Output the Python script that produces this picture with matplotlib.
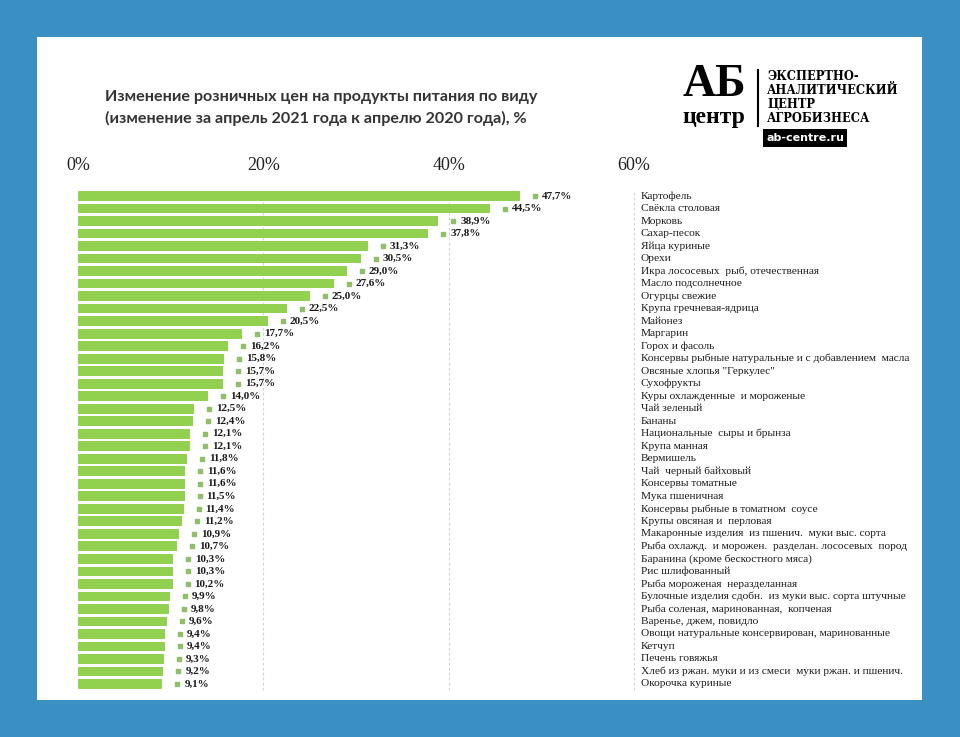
import numpy as np
import matplotlib.pyplot as plt
from matplotlib.patches import Rectangle
from matplotlib.transforms import offset_copy

# data
products = [
    "Картофель", "Свёкла столовая", "Морковь", "Сахар-песок", "Яйца куриные",
    "Орехи", "Икра лососевых  рыб, отечественная", "Масло подсолнечное",
    "Огурцы свежие", "Крупа гречневая-ядрица", "Майонез", "Маргарин",
    "Горох и фасоль", "Консервы рыбные натуральные и с добавлением  масла",
    "Овсяные хлопья \"Геркулес\"", "Сухофрукты", "Куры охлажденные  и мороженые",
    "Чай зеленый", "Бананы", "Национальные  сыры и брынза", "Крупа манная",
    "Вермишель", "Чай  черный байховый", "Консервы томатные", "Мука пшеничная",
    "Консервы рыбные в томатном  соусе", "Крупы овсяная и  перловая",
    "Макаронные изделия  из пшенич.  муки выс. сорта",
    "Рыба охлажд.  и морожен.  разделан. лососевых  пород",
    "Баранина (кроме бескостного мяса)", "Рис шлифованный",
    "Рыба мороженая  неразделанная",
    "Булочные изделия сдобн.  из муки выс. сорта штучные",
    "Рыба соленая, маринованная,  копченая", "Варенье, джем, повидло",
    "Овощи натуральные консервирован, маринованные", "Кетчуп",
    "Печень говяжья", "Хлеб из ржан. муки и из смеси  муки ржан. и пшенич.",
    "Окорочка куриные",
]
change = [47.7, 44.5, 38.9, 37.8, 31.3, 30.5, 29.0, 27.6, 25.0, 22.5, 20.5,
          17.7, 16.2, 15.8, 15.7, 15.7, 14.0, 12.5, 12.4, 12.1, 12.1, 11.8,
          11.6, 11.6, 11.5, 11.4, 11.2, 10.9, 10.7, 10.3, 10.3, 10.2, 9.9,
          9.8, 9.6, 9.4, 9.4, 9.3, 9.2, 9.1]
xticks = [0, 20, 40, 60]

W, H = 960, 737


def px(x, y):
    return x / W, 1 - y / H


fig = plt.figure(figsize=(9.6, 7.37), dpi=100)
fig.patch.set_facecolor('#3a8fc3')
fig.patches.append(Rectangle(px(37, 700), (922 - 37) / W, (700 - 37) / H,
                             transform=fig.transFigure, facecolor='white',
                             edgecolor='none', zorder=-1))

# axes placed so that 0..60 % spans x 78..634 px
n = len(change)
step = (684 - 196) / (n - 1)
top_px = 196 - step / 2
bot_px = 684 + step / 2
ax = fig.add_axes([78 / W, 1 - bot_px / H, (634 - 78) / W, (bot_px - top_px) / H])
ax.set_facecolor('none')
ax.set_zorder(2)

y = np.arange(n)
ax.barh(y, change, height=0.78, color='#92d050', zorder=2)
ax.set_xlim(0, 60)
ax.set_ylim(n - 0.5, -0.5)

for g in xticks[1:]:
    ax.axvline(g, color='#d3d3d3', lw=0.8, ls=(0, (2.5, 2)), zorder=1,
               clip_on=False)

ax.xaxis.tick_top()
ax.set_xticks(xticks)
ax.set_xticklabels([f"{t}%" for t in xticks], fontfamily='Liberation Serif',
                   fontsize=13, color='#222222')
ax.tick_params(axis='x', length=0, pad=11)
ax.set_yticks([])
for s in ax.spines.values():
    s.set_visible(False)

# value markers and labels
mk_tr = offset_copy(ax.transData, fig=fig, x=15, y=0, units='dots')
ax.scatter(change, y, marker='s', s=9, color='#8fbf68', transform=mk_tr,
           zorder=3, clip_on=False)
txt_tr = offset_copy(ax.transData, fig=fig, x=22, y=0, units='dots')
for v, yy in zip(change, y):
    ax.text(v, yy, f"{v:.1f}%".replace('.', ','), transform=txt_tr,
            ha='left', va='center', fontsize=8, fontweight='bold',
            fontfamily='Liberation Serif', color='#1a1a1a')

# product names to the right of the plot
for name, yy in zip(products, y):
    ax.text(60.75, yy, name, ha='left', va='center', fontsize=8.2,
            fontfamily='Liberation Serif', color='#1a1a1a', clip_on=False)

# title
fig.text(*px(105, 97), "Изменение розничных цен на продукты питания по виду",
         fontsize=11.6, fontweight='bold', fontfamily='Lato', color='#333333',
         ha='left', va='center')
fig.text(*px(105, 118), "(изменение за апрель 2021 года к апрелю 2020 года), %",
         fontsize=11.6, fontweight='bold', fontfamily='Lato', color='#333333',
         ha='left', va='center')

# logo
fig.text(*px(714, 85), "АБ", fontsize=33, fontweight='bold',
         fontfamily='Liberation Serif', ha='center', va='center', color='black')
fig.text(*px(714, 117), "центр", fontsize=17, fontweight='bold',
         fontfamily='Liberation Serif', ha='center', va='center', color='black')
fig.lines.append(plt.Line2D([758 / W, 758 / W], [1 - 70 / H, 1 - 126 / H],
                            transform=fig.transFigure, color='black', lw=1.5))
for i, line in enumerate(["ЭКСПЕРТНО-", "АНАЛИТИЧЕСКИЙ", "ЦЕНТР", "АГРОБИЗНЕСА"]):
    fig.text(*px(767, 77 + i * 14), line, fontsize=8.3, fontweight='bold',
             fontfamily='DejaVu Serif', ha='left', va='center', color='black')
fig.patches.append(Rectangle(px(763, 147), 84 / W, 18 / H,
                             transform=fig.transFigure, facecolor='black',
                             edgecolor='none'))
fig.text(*px(805, 138), "ab-centre.ru", fontsize=8, fontweight='bold',
         fontfamily='DejaVu Sans', ha='center', va='center', color='white')

fig.savefig('out.png', dpi=100, facecolor=fig.get_facecolor())
